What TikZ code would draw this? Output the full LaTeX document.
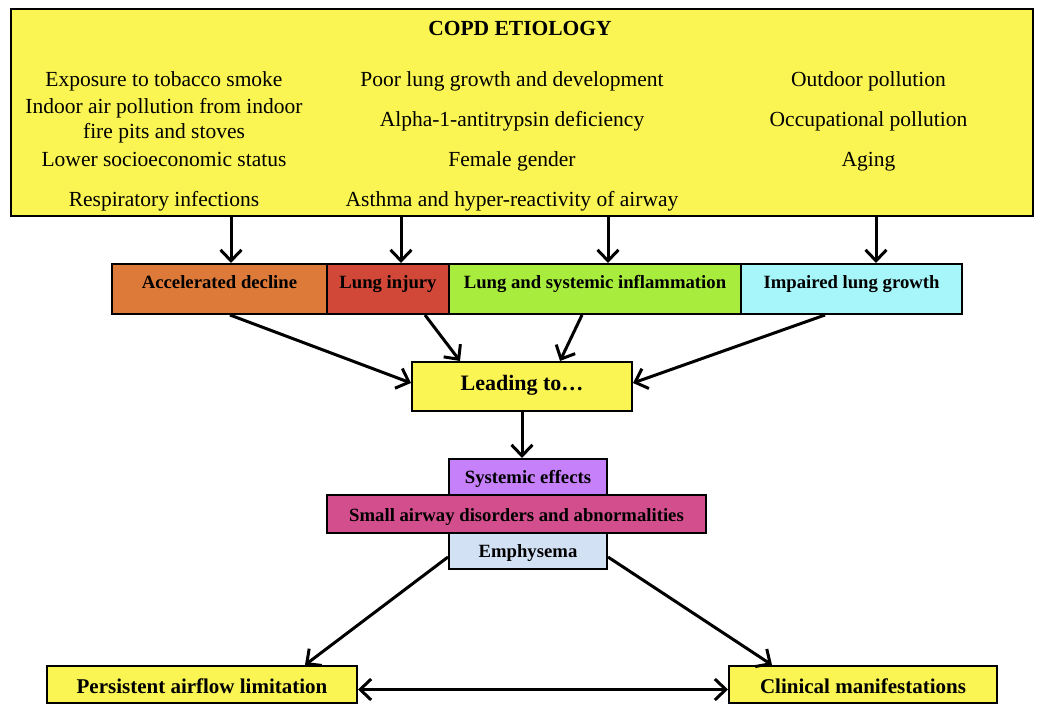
\documentclass[tikz,border=0pt]{standalone}
\usepackage{fontspec}
\setmainfont{Liberation Serif}
\usetikzlibrary{arrows.meta}
\definecolor{cYel}{RGB}{250,245,82}
\definecolor{cOra}{RGB}{221,122,58}
\definecolor{cRed}{RGB}{209,72,56}
\definecolor{cGrn}{RGB}{168,236,62}
\definecolor{cCya}{RGB}{166,246,250}
\definecolor{cPur}{RGB}{197,128,250}
\definecolor{cMag}{RGB}{211,78,140}
\definecolor{cLbl}{RGB}{211,225,244}
\tikzset{
  box/.style={draw=black, line width=2pt, inner sep=0pt, align=center,
    font=\bfseries\fontsize{18.7}{20}\selectfont},
  rowbox/.style={box, minimum height=50pt, text height=12pt, text depth=14pt},
  midbox/.style={box, minimum height=36pt, text height=12pt, text depth=0pt},
  endbox/.style={box, fill=cYel, minimum height=37pt, text height=17pt, text depth=0pt,
    font=\bfseries\fontsize{21}{23}\selectfont},
  cause/.style={font=\fontsize{21.5}{24}\selectfont, anchor=base, inner sep=0pt},
  barb/.tip={Straight Barb[length=11pt,width=21pt,line width=3pt]},
  arr/.style={line width=3pt, -barb},
  dblarr/.style={line width=3pt, barb-barb},
}
\begin{document}
\begin{tikzpicture}[x=1pt,y=-1pt]
\useasboundingbox[fill=white] (0,0) rectangle (1037,704);
% top box
\node[draw=black, line width=2pt, fill=cYel, minimum width=1022pt, minimum height=207pt, inner sep=0pt] (top) at (522,112.5) {};
\node[cause, font=\bfseries\fontsize{21.5}{24}\selectfont] (title) at (520,35) {COPD ETIOLOGY};
\node[cause] (c11) at (164,86) {Exposure to tobacco smoke};
\node[cause] (c12) at (164,113) {Indoor air pollution from indoor};
\node[cause] (c13) at (164,138) {fire pits and stoves};
\node[cause] (c14) at (164,166) {Lower socioeconomic status};
\node[cause] (c15) at (164,206) {Respiratory infections};
\node[cause] (c21) at (512,86) {Poor lung growth and development};
\node[cause] (c22) at (512,126) {Alpha-1-antitrypsin deficiency};
\node[cause] (c23) at (512,166) {Female gender};
\node[cause] (c24) at (512,206) {Asthma and hyper-reactivity of airway};
\node[cause] (c31) at (868.5,86) {Outdoor pollution};
\node[cause] (c32) at (868.5,126) {Occupational pollution};
\node[cause] (c33) at (868.5,166) {Aging};
% row of mechanisms
\node[rowbox, fill=cOra, minimum width=215pt] (ad) at (219.5,289) {Accelerated decline};
\node[rowbox, fill=cRed, minimum width=122pt] (li) at (388,289) {Lung injury};
\node[rowbox, fill=cGrn, minimum width=292pt] (lsi) at (595,289) {Lung and systemic inflammation};
\node[rowbox, fill=cCya, minimum width=221pt] (ilg) at (851.5,289) {Impaired lung growth};
% leading to
\node[box, fill=cYel, minimum width=220pt, minimum height=49pt, text height=14.5pt, text depth=7.5pt,
  font=\bfseries\fontsize{22}{24}\selectfont] (lead) at (522,386.5) {Leading to\ldots};
% stacked boxes
\node[midbox, fill=cPur, minimum width=158pt] (sys) at (528,477) {Systemic effects};
\node[midbox, fill=cMag, minimum width=379pt, minimum height=38pt, text height=14pt] (sad) at (516.5,514) {Small airway disorders and abnormalities};
\node[midbox, fill=cLbl, minimum width=158pt] (emph) at (528,551) {Emphysema};
% outcomes
\node[endbox, minimum width=310pt] (pers) at (202,684.5) {Persistent airflow limitation};
\node[endbox, minimum width=268pt] (clin) at (863,684.5) {Clinical manifestations};
% arrows from etiology
\draw[arr] ([xshift=11.5pt]ad.north |- top.south) -- ([xshift=11.5pt]ad.north);
\draw[arr] ([xshift=13pt]li.north |- top.south) -- ([xshift=13pt]li.north);
\draw[arr] ([xshift=13pt]lsi.north |- top.south) -- ([xshift=13pt]lsi.north);
\draw[arr] ([xshift=24.5pt]ilg.north |- top.south) -- ([xshift=24.5pt]ilg.north);
% arrows into leading to
\draw[arr] ([xshift=10.5pt]ad.south) -- ([yshift=3.5pt]lead.west);
\draw[arr] ([xshift=37pt]li.south) -- ([xshift=-62pt]lead.north);
\draw[arr] ([xshift=-13pt]lsi.south) -- ([xshift=38pt]lead.north);
\draw[arr] ([xshift=-26.5pt]ilg.south) -- ([yshift=3.5pt]lead.east);
% leading to -> systemic effects
\draw[arr] (lead.south) -- (lead.south |- sys.north);
% emphysema -> outcomes
\draw[arr] ([yshift=-6pt]emph.west) -- ([xshift=103pt]pers.north);
\draw[arr] ([yshift=-6pt]emph.east) -- ([xshift=-91pt]clin.north);
\draw[dblarr] ([yshift=-5pt]pers.east) -- ([yshift=-5pt]clin.west);
\end{tikzpicture}
\end{document}
